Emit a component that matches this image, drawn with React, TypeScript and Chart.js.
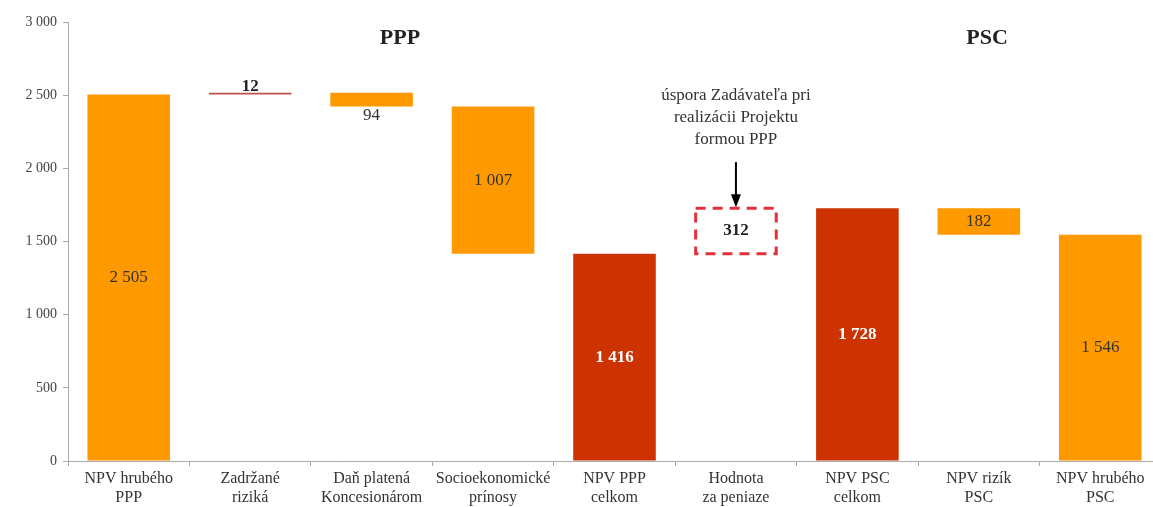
import React, { useEffect, useRef } from "react";
import { Chart, registerables } from "chart.js";

Chart.register(...registerables);

const categories: string[][] = [
  ["NPV hrubého", "PPP"],
  ["Zadržané", "riziká"],
  ["Daň platená", "Koncesionárom"],
  ["Socioekonomické", "prínosy"],
  ["NPV PPP", "celkom"],
  ["Hodnota", "za peniaze"],
  ["NPV PSC", "celkom"],
  ["NPV rizík", "PSC"],
  ["NPV hrubého", "PSC"],
];
const barLow = [0, 2505, 2423, 1416, 0, 1416, 0, 1546, 0];
const barHigh = [2505, 2517, 2517, 2423, 1416, 1728, 1728, 1728, 1546];
const barColors = ["#FF9900", "#C0504D", "#FF9900", "#FF9900", "#CC3300", "rgba(0,0,0,0)", "#CC3300", "#FF9900", "#FF9900"];
const labelPos = ["center", "above", "below", "center", "center", "center", "center", "center", "center"];
const labelBold = [false, true, false, false, true, true, true, false, false];
const labelColor = ["#333", "#222", "#333", "#333", "#fff", "#222", "#fff", "#333", "#333"];
const yTicks = [0, 500, 1000, 1500, 2000, 2500, 3000];
const noteLines = ["úspora Zadávateľa pri", "realizácii Projektu", "formou PPP"];
const noteIndex = 5;
const groupTitles = ["PPP", "PSC"];
const groupTitleX = [400, 987];

const FONT = "'Liberation Serif', 'DejaVu Serif', serif";
const fmt = (v: number) => String(Math.round(v)).replace(/\B(?=(\d{3})+(?!\d))/g, " ");

const overlay = {
  id: "overlay",
  afterDatasetsDraw(chart: any) {
    const ctx = chart.ctx;
    const meta = chart.getDatasetMeta(0);
    ctx.save();
    meta.data.forEach((el: any, i: number) => {
      const top = Math.min(el.y, el.base);
      const bottom = Math.max(el.y, el.base);
      const x = el.x;
      if (i === noteIndex) {
        const w = el.width;
        ctx.setLineDash([10, 7]);
        ctx.strokeStyle = "#E3303C";
        ctx.lineWidth = 3;
        ctx.strokeRect(x - w / 2 + 1, top, w - 2, bottom - top);
        ctx.setLineDash([]);
        ctx.strokeStyle = "#000";
        ctx.lineWidth = 2;
        ctx.beginPath();
        ctx.moveTo(x, top - 46);
        ctx.lineTo(x, top - 12);
        ctx.stroke();
        ctx.fillStyle = "#000";
        ctx.beginPath();
        ctx.moveTo(x - 5, top - 14);
        ctx.lineTo(x + 5, top - 14);
        ctx.lineTo(x, top - 1);
        ctx.closePath();
        ctx.fill();
        ctx.font = `17px ${FONT}`;
        ctx.fillStyle = "#333";
        ctx.textAlign = "center";
        ctx.textBaseline = "middle";
        noteLines.forEach((t, k) => ctx.fillText(t, x, top - 113 + k * 22));
      }
      const val = fmt(barHigh[i] - barLow[i]);
      ctx.font = `${labelBold[i] ? "bold " : ""}17px ${FONT}`;
      ctx.fillStyle = labelColor[i];
      ctx.textAlign = "center";
      if (labelPos[i] === "center") {
        ctx.textBaseline = "middle";
        ctx.fillText(val, x, (top + bottom) / 2);
      } else if (labelPos[i] === "above") {
        ctx.textBaseline = "bottom";
        ctx.fillText(val, x, top + 2);
      } else {
        ctx.textBaseline = "top";
        ctx.fillText(val, x, bottom + 1);
      }
    });
    ctx.font = `bold 22px ${FONT}`;
    ctx.fillStyle = "#222";
    ctx.textAlign = "center";
    ctx.textBaseline = "middle";
    groupTitles.forEach((t, k) => ctx.fillText(t, groupTitleX[k], 38));
    ctx.restore();
  },
};

export default function App() {
  const ref = useRef<HTMLCanvasElement>(null);
  useEffect(() => {
    if (!ref.current) return;
    const chart = new Chart(ref.current, {
      type: "bar",
      data: {
        labels: categories,
        datasets: [
          {
            data: barLow.map((l, i) => [l, barHigh[i]]) as any,
            backgroundColor: barColors,
            borderWidth: 0,
            barPercentage: 0.68,
            categoryPercentage: 1,
          },
        ],
      },
      options: {
        animation: false,
        responsive: true,
        maintainAspectRatio: false,
        layout: { padding: { top: 22, right: 0, left: 0, bottom: 0 } },
        plugins: { legend: { display: false }, tooltip: { enabled: false } },
        scales: {
          y: {
            min: 0,
            max: 3000,
            afterBuildTicks: (s: any) => {
              s.ticks = yTicks.map((v) => ({ value: v }));
            },
            afterFit: (s: any) => {
              s.width = 68;
            },
            ticks: {
              callback: (v: any) => fmt(Number(v)),
              color: "#444",
              font: { family: FONT, size: 14 },
              padding: 6,
            },
            grid: { drawOnChartArea: false, drawTicks: true, tickLength: 5, color: "#aaa" },
            border: { display: true, color: "#aaa", width: 1 },
          },
          x: {
            afterFit: (s: any) => {
              s.height = 46;
            },
            ticks: {
              color: "#333",
              font: { family: FONT, size: 16, lineHeight: 1.2 },
              padding: 3,
              maxRotation: 0,
              autoSkip: false,
            },
            grid: { drawOnChartArea: false, drawTicks: true, tickLength: 5, color: "#aaa", offset: true },
            border: { display: true, color: "#aaa", width: 1 },
          },
        },
      },
      plugins: [overlay],
    });
    return () => chart.destroy();
  }, []);
  return (
    <div style={{ position: "fixed", left: 0, top: 0, width: 1153, height: 507, overflow: "hidden", background: "#fff" }}>
      <div style={{ position: "relative", width: 1161, height: 507 }}>
        <canvas ref={ref} />
      </div>
    </div>
  );
}
